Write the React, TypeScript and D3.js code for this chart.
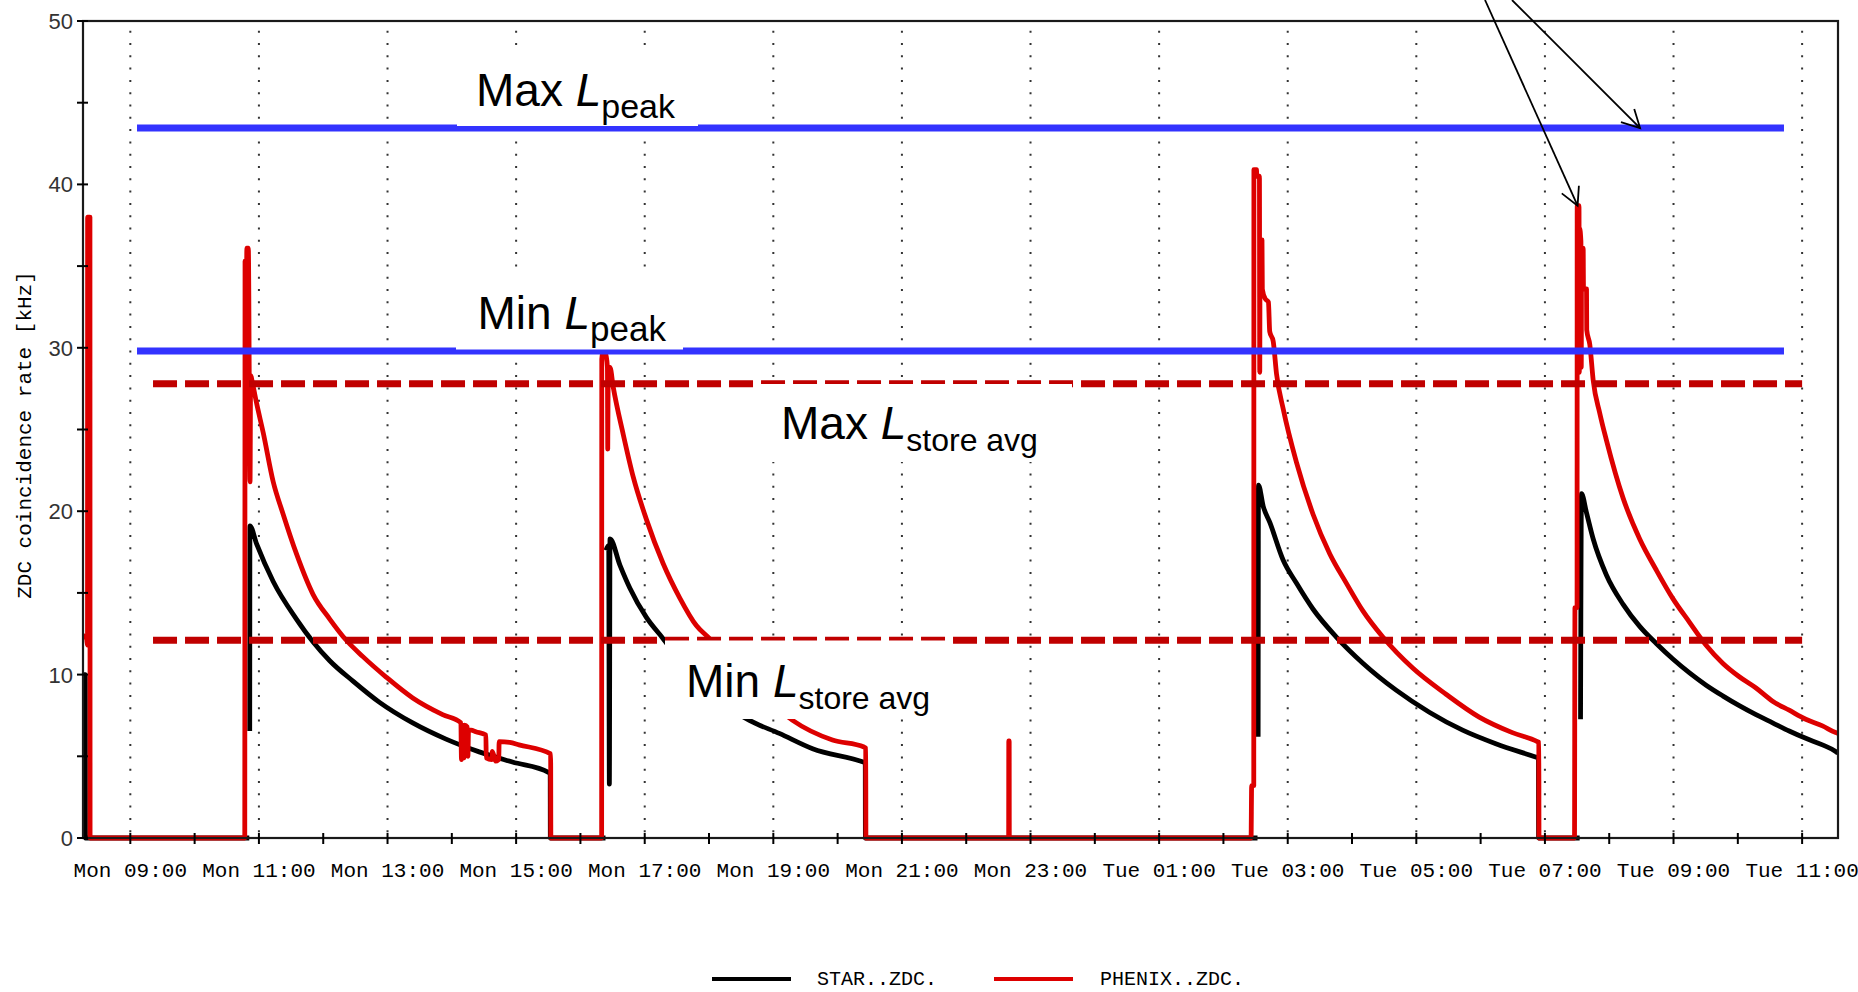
import React from 'react';
import * as d3 from 'd3';

type Pt = [number, number | null];

// ---------- data (hours since Monday 00:00, kHz) ----------
const BASE_MS = new Date(2012, 0, 16, 0, 0, 0).getTime(); // a Monday
const toDate = (h: number) => new Date(BASE_MS + h * 3600 * 1000);

const X_DOMAIN_HOURS: [number, number] = [8.264, 35.558];
const Y_DOMAIN: [number, number] = [0, 50];
const Y_TICKS = [0, 5, 10, 15, 20, 25, 30, 35, 40, 45, 50];
const Y_LABELED = [0, 10, 20, 30, 40, 50];
const Y_TITLE = 'ZDC coincidence rate [kHz]';

const SERIES_NAMES = ['STAR..ZDC.', 'PHENIX..ZDC.'];
const SERIES_COLORS = ['#000000', '#dd0000'];

const STAR: Pt[] = [
  [8.264, 10.0], [8.3, 10.0], [8.302, 0], [10.85, 0], [10.852, null],
  [10.857, 6.55], [10.86, 19.1], [10.964, 18.0], [11.222, 15.7], [11.583, 13.4], [11.843, 12.0],
  [12.101, 10.85], [12.463, 9.6], [12.876, 8.3], [13.392, 7.04], [13.91, 6.05], [14.426, 5.27],
  [14.942, 4.65], [15.51, 4.0], [15.53, 3.95], [15.532, 0], [16.39, 0], [16.392, null],
  [16.397, 17.6], [16.44, 17.9], [16.45, 3.3], [16.46, 18.3], [16.614, 16.7], [16.768, 15.3],
  [17.026, 13.5], [17.286, 12.2], [17.6, 10.6], [18.0, 9.0], [18.3, 8.0], [18.628, 7.2],
  [19.093, 6.4], [19.611, 5.46], [20.41, 4.63], [20.43, 4.6], [20.432, 0], [26.53, 0], [26.532, null],
  [26.54, 6.2], [26.545, 21.6], [26.619, 20.3], [26.723, 19.3], [26.93, 17.0], [27.135, 15.6],
  [27.395, 14.0], [27.756, 12.3], [28.169, 10.7], [28.686, 9.05], [29.202, 7.7], [29.72, 6.6],
  [30.236, 5.77], [30.855, 4.96], [30.9, 4.9], [30.902, 0], [31.54, 0], [31.542, null],
  [31.554, 7.27], [31.569, 21.07], [31.647, 19.9], [31.751, 18.3], [31.956, 16.1], [32.216, 14.3],
  [32.474, 12.95], [32.732, 11.9], [32.99, 10.95], [33.249, 10.1], [33.507, 9.35], [33.765, 8.7],
  [34.023, 8.1], [34.283, 7.55], [34.541, 7.05], [34.799, 6.55], [35.057, 6.1], [35.316, 5.7],
  [35.522, 5.3], [35.558, 5.2],
];

const PHENIX: Pt[] = [
  [8.264, 12.4], [8.32, 12.2], [8.334, 11.8], [8.336, 38.0], [8.372, 38.0], [8.374, 0],
  [10.78, 0], [10.784, 35.3], [10.809, 35.3], [10.812, 36.1], [10.835, 36.1], [10.862, 21.8],
  [10.871, 28.3], [10.902, 27.8], [10.964, 26.6], [11.067, 24.8], [11.222, 21.8], [11.378, 19.8],
  [11.583, 17.4], [11.843, 14.9], [12.101, 13.4], [12.359, 12.1], [12.617, 11.1], [12.978, 9.85],
  [13.392, 8.57], [13.857, 7.55], [14.141, 7.05], [14.15, 4.8], [14.17, 6.9], [14.19, 4.9],
  [14.2, 6.9], [14.24, 6.8], [14.25, 5.0], [14.26, 6.6], [14.3, 6.6], [14.373, 6.5], [14.53, 6.3],
  [14.535, 4.9], [14.62, 4.8], [14.63, 5.3], [14.68, 4.7], [14.73, 4.8], [14.736, 5.9],
  [14.9, 5.85], [15.045, 5.7], [15.537, 5.15], [15.54, 0],
  [16.33, 0], [16.332, 29.3], [16.36, 29.9], [16.4, 29.5], [16.42, 28.8], [16.425, 23.8],
  [16.432, 28.5], [16.46, 28.8], [16.51, 27.6], [16.666, 24.7], [16.821, 22.1], [17.026, 19.5],
  [17.286, 16.8], [17.544, 14.7], [17.803, 13.0], [18.009, 12.2], [18.4, 10.4], [18.8, 8.9],
  [19.3, 7.2], [19.92, 6.0], [20.41, 5.57], [20.437, 5.5], [20.44, 0],
  [22.66, 0], [22.662, 5.95], [22.668, 5.95], [22.67, 0],
  [26.43, 0], [26.439, 3.2], [26.472, 3.2], [26.474, 40.9], [26.515, 40.9], [26.518, 40.5],
  [26.56, 40.5], [26.565, 28.5], [26.57, 36.6], [26.6, 36.6], [26.605, 33.6], [26.65, 33.0],
  [26.7, 32.8], [26.72, 31.0], [26.774, 30.4], [26.826, 28.4], [26.93, 26.25], [27.135, 23.0],
  [27.395, 19.8], [27.653, 17.4], [27.911, 15.6], [28.169, 13.9], [28.479, 12.3], [28.944, 10.4],
  [29.462, 8.8], [29.978, 7.4], [30.494, 6.45], [30.882, 5.9], [30.905, 5.85], [30.908, 0],
  [31.46, 0], [31.467, 14.1], [31.5, 14.1], [31.502, 38.7], [31.53, 38.7], [31.535, 28.5],
  [31.54, 37.3], [31.56, 36.5], [31.565, 28.8], [31.57, 36.1], [31.595, 36.1], [31.6, 33.6],
  [31.647, 33.6], [31.65, 31.1], [31.698, 30.2], [31.751, 28.0], [31.853, 26.0], [31.956, 24.35],
  [32.216, 20.8], [32.474, 18.3], [32.732, 16.4], [32.99, 14.65], [33.249, 13.2], [33.507, 11.8],
  [33.765, 10.7], [34.023, 9.87], [34.283, 9.18], [34.541, 8.37], [34.799, 7.82], [35.057, 7.27],
  [35.316, 6.86], [35.522, 6.45], [35.558, 6.4],
];

// reference levels (kHz)
const PEAK_LEVELS = [43.45, 29.8]; // Max / Min L_peak
const STORE_LEVELS = [27.8, 12.1]; // Max / Min L_store avg
const PEAK_SPAN_HOURS: [number, number] = [9.104, 34.718];
const STORE_SPAN_HOURS: [number, number] = [9.353, 35.0];
const LEVEL_PREFIX = ['Max', 'Min', 'Max', 'Min'];
const LEVEL_SUB = ['peak', 'peak', 'store avg', 'store avg'];

// arrow targets: the PHENIX peak of the last fill, and the Max L_peak line
const ARROW_TARGETS: [number, number][] = [[31.508, 38.7], [32.48, 43.45]];

// ---------- layout ----------
const W = 1858;
const H = 992;
const PL = 83, PR = 1838, PT = 21, PB = 838;

// label boxes (pixel layout of the overlaid annotations)
const LABELS = [
  { x: 476, y: 106, sub: 34, box: [457, 50, 698, 126] },
  { x: 477.5, y: 328.5, sub: 35, box: [456, 272, 683, 349.5] },
  { x: 781, y: 439, sub: 32, box: [757, 384, 1072, 462] },
  { x: 686, y: 697, sub: 32, box: [665, 640.5, 952, 719] },
];
const ARROW_STARTS: [number, number][] = [[1485, 0], [1512, 0]];

const MONO = "'Liberation Mono', 'DejaVu Sans Mono', monospace";
const SANS = "'Liberation Sans', Arial, sans-serif";

export default function App() {
  const x = d3.scaleTime()
    .domain([toDate(X_DOMAIN_HOURS[0]), toDate(X_DOMAIN_HOURS[1])])
    .range([PL, PR]);
  const y = d3.scaleLinear().domain(Y_DOMAIN).range([PB, PT]);

  const line = d3.line<Pt>()
    .defined((d) => d[1] !== null)
    .x((d) => x(toDate(d[0])))
    .y((d) => y(d[1] as number))
    .curve(d3.curveMonotoneX);

  const hourTicks = d3.timeHour.range(toDate(9), toDate(35.01));
  const labeled = hourTicks.filter((d) => d.getHours() % 2 === 1);
  const fmt = d3.timeFormat('%a %H:%M');

  const arrowHead = (sx: number, sy: number, tx: number, ty: number) => {
    const ang = Math.atan2(ty - sy, tx - sx) + Math.PI;
    const L = 20, a = (28 * Math.PI) / 180;
    const p1 = [tx + L * Math.cos(ang - a), ty + L * Math.sin(ang - a)];
    const p2 = [tx + L * Math.cos(ang + a), ty + L * Math.sin(ang + a)];
    return `M${p1[0]},${p1[1]}L${tx},${ty}L${p2[0]},${p2[1]}`;
  };

  const levelLines = [
    ...PEAK_LEVELS.map((v) => ({ v, span: PEAK_SPAN_HOURS, color: '#3333ff', dash: undefined as string | undefined })),
    ...STORE_LEVELS.map((v) => ({ v, span: STORE_SPAN_HOURS, color: '#c00000', dash: '24 8' })),
  ];

  return (
    <div style={{ position: 'absolute', left: 0, top: 0 }}>
      <svg width={W} height={H} style={{ display: 'block', background: '#fff' }}>
        <defs>
          <clipPath id="plotclip">
            <rect x={PL} y={PT} width={PR - PL} height={PB - PT + 3} />
          </clipPath>
        </defs>
        <rect x={0} y={0} width={W} height={H} fill="#fff" />

        {/* dotted vertical grid */}
        {labeled.map((d, i) => (
          <line key={'g' + i} x1={x(d)} x2={x(d)} y1={PT} y2={PB}
            stroke="#333" strokeWidth={2} strokeDasharray="2 10.3" strokeDashoffset={2.6} />
        ))}

        {/* data */}
        <g clipPath="url(#plotclip)" fill="none" strokeLinejoin="round">
          <path d={line(STAR) || ''} stroke={SERIES_COLORS[0]} strokeWidth={4.8} />
          <path d={line(PHENIX) || ''} stroke={SERIES_COLORS[1]} strokeWidth={4.8} />
        </g>

        {/* reference levels */}
        {levelLines.map((l, i) => (
          <line key={'l' + i}
            x1={x(toDate(l.span[0]))} x2={x(toDate(l.span[1]))}
            y1={y(l.v)} y2={y(l.v)}
            stroke={l.color} strokeWidth={7} strokeDasharray={l.dash} />
        ))}

        {/* label boxes and texts */}
        {LABELS.map((lb, i) => (
          <g key={'t' + i}>
            <rect x={lb.box[0]} y={lb.box[1]} width={lb.box[2] - lb.box[0]} height={lb.box[3] - lb.box[1]} fill="#fff" />
            <text x={lb.x} y={lb.y} fontFamily={SANS} fontSize={46} fill="#000">
              <tspan>{LEVEL_PREFIX[i] + ' '}</tspan>
              <tspan fontStyle="italic">L</tspan>
              <tspan fontSize={lb.sub} dy={12}>{LEVEL_SUB[i]}</tspan>
            </text>
          </g>
        ))}

        {/* axes frame */}
        <rect x={PL} y={PT} width={PR - PL} height={PB - PT} fill="none" stroke="#1a1a1a" strokeWidth={2.2} />

        {/* y ticks */}
        {Y_TICKS.map((v) => (
          <line key={'yt' + v} x1={PL - 6} x2={PL + 5} y1={y(v)} y2={y(v)} stroke="#000" strokeWidth={2} />
        ))}
        {Y_LABELED.map((v) => (
          <text key={'yl' + v} x={PL - 10} y={y(v)} dy="0.36em" textAnchor="end"
            fontFamily={SANS} fontSize={22} fill="#333">{String(v)}</text>
        ))}
        <text transform={`translate(25,435) rotate(-90)`} textAnchor="middle"
          dominantBaseline="central" fontFamily={MONO} fontSize={21} fill="#000">{Y_TITLE}</text>

        {/* x ticks */}
        {hourTicks.map((d, i) => (
          <line key={'xt' + i} x1={x(d)} x2={x(d)} y1={PB - 5} y2={PB + 6} stroke="#000" strokeWidth={2} />
        ))}
        {labeled.map((d, i) => (
          <text key={'xl' + i} x={x(d)} y={877} textAnchor="middle"
            fontFamily={MONO} fontSize={21} fill="#000">{fmt(d)}</text>
        ))}

        {/* legend */}
        <line x1={712} x2={791} y1={979} y2={979} stroke={SERIES_COLORS[0]} strokeWidth={4} />
        <text x={817} y={985} fontFamily={MONO} fontSize={20} fill="#000">{SERIES_NAMES[0]}</text>
        <line x1={994} x2={1073} y1={979} y2={979} stroke={SERIES_COLORS[1]} strokeWidth={4} />
        <text x={1100} y={985} fontFamily={MONO} fontSize={20} fill="#000">{SERIES_NAMES[1]}</text>

        {/* arrows */}
        {ARROW_TARGETS.map((tg, i) => {
          const tx = x(toDate(tg[0]));
          const ty = y(tg[1]);
          const [sx, sy] = ARROW_STARTS[i];
          return (
            <g key={'a' + i} stroke="#000" strokeWidth={1.8} fill="none">
              <line x1={sx} y1={sy} x2={tx} y2={ty} />
              <path d={arrowHead(sx, sy, tx, ty)} />
            </g>
          );
        })}
      </svg>
    </div>
  );
}
